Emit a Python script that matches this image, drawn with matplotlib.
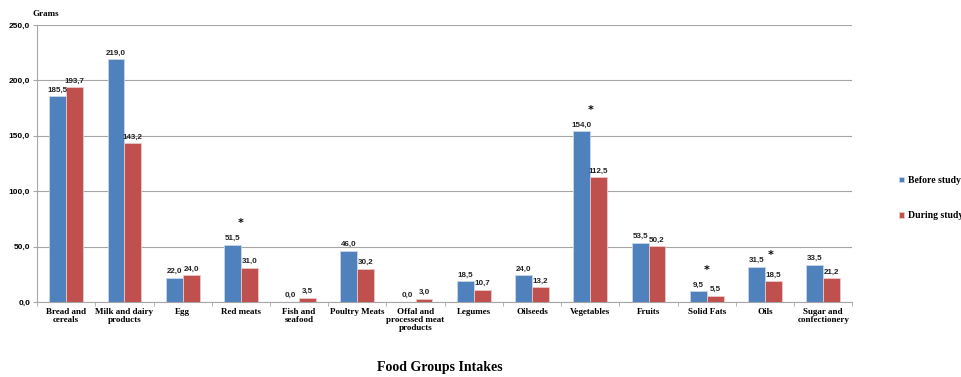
import numpy as np
import matplotlib
matplotlib.use('Agg')
import matplotlib.pyplot as plt

# Data
categories = ['Bread and\ncereals', 'Milk and dairy\nproducts', 'Egg', 'Red meats',
              'Fish and\nseafood', 'Poultry Meats', 'Offal and\nprocessed meat\nproducts',
              'Legumes', 'Oilseeds', 'Vegetables', 'Fruits', 'Solid Fats', 'Oils',
              'Sugar and\nconfectionery']
before = [185.5, 219.0, 22.0, 51.5, 0.0, 46.0, 0.0, 18.5, 24.0, 154.0, 53.5, 9.5, 31.5, 33.5]
during = [193.7, 143.2, 24.0, 31.0, 3.5, 30.2, 3.0, 10.7, 13.2, 112.5, 50.2, 5.5, 18.5, 21.2]
# categories marked with an asterisk (significant difference)
starred = ['Red meats', 'Vegetables', 'Solid Fats', 'Oils']


def main():
    blue = '#4F81BD'
    red = '#C0504D'
    serif = 'Liberation Serif'
    sans = 'Liberation Sans'

    fig = plt.figure(figsize=(9.62, 3.77), dpi=100)
    ax = fig.add_axes([0.0385, 0.199, 0.8475, 0.735])

    x = np.arange(len(categories))
    w = 0.29
    b1 = ax.bar(x - w / 2, before, w, color=blue, edgecolor='#c8d6ea', linewidth=0.6,
                label='Before study', zorder=3)
    b2 = ax.bar(x + w / 2, during, w, color=red, edgecolor='#ecc9c8', linewidth=0.6,
                label='During study', zorder=3)

    for bars, vals in ((b1, before), (b2, during)):
        for bar, v in zip(bars, vals):
            ax.annotate(('%.1f' % v).replace('.', ','),
                        (bar.get_x() + bar.get_width() / 2, v),
                        xytext=(0, 2), textcoords='offset points',
                        ha='center', va='bottom', fontsize=5.8,
                        fontweight='bold', family=sans, color='#222222')

    # asterisks
    for name in starred:
        i = categories.index(name)
        top = max(before[i], during[i])
        if name == 'Oils':
            ax.annotate('*', (i + 0.1, top), xytext=(0, 5), textcoords='offset points',
                        ha='center', va='bottom', fontsize=8, fontweight='bold')
        else:
            ax.annotate('*', (i, top), xytext=(0, 12), textcoords='offset points',
                        ha='center', va='bottom', fontsize=8, fontweight='bold')

    ax.set_xlim(-0.5, len(categories) - 0.5)
    ax.set_ylim(0, 250)
    ax.set_yticks(np.arange(0, 251, 50))
    ax.set_yticklabels([('%.1f' % t).replace('.', ',') for t in np.arange(0, 251, 50)],
                       fontsize=6, fontweight='bold', family=sans)
    ax.yaxis.grid(True, color='#a6a6a6', linewidth=0.8, zorder=0)
    ax.set_axisbelow(True)

    ax.set_xticks(x)
    ax.set_xticklabels(categories, fontsize=6.5, fontweight='bold', family=serif,
                       linespacing=1.0)
    ax.tick_params(axis='x', length=0, pad=4)
    ax.set_xticks(np.arange(-0.5, len(categories), 1), minor=True)
    ax.tick_params(axis='x', which='minor', length=3, color='#a6a6a6')
    ax.tick_params(axis='y', length=3, color='#a6a6a6', pad=2)

    for s in ('top', 'right'):
        ax.spines[s].set_visible(False)
    ax.spines['left'].set_color('#a6a6a6')
    ax.spines['bottom'].set_color('#a6a6a6')

    fig.text(0.034, 0.962, 'Grams', fontsize=6.5, fontweight='bold', family=serif,
             ha='left', va='center')
    fig.text(0.457, 0.025, 'Food Groups Intakes', fontsize=10, fontweight='bold',
             family=serif, ha='center', va='center')

    ax.legend(loc='center left', bbox_to_anchor=(1.053, 0.375), frameon=False,
              prop={'family': serif, 'weight': 'bold', 'size': 7},
              handlelength=0.5, handleheight=0.5, handletextpad=0.4,
              labelspacing=2.7, borderaxespad=0)

    fig.savefig('out.png', dpi=100)


if __name__ == '__main__':
    main()
